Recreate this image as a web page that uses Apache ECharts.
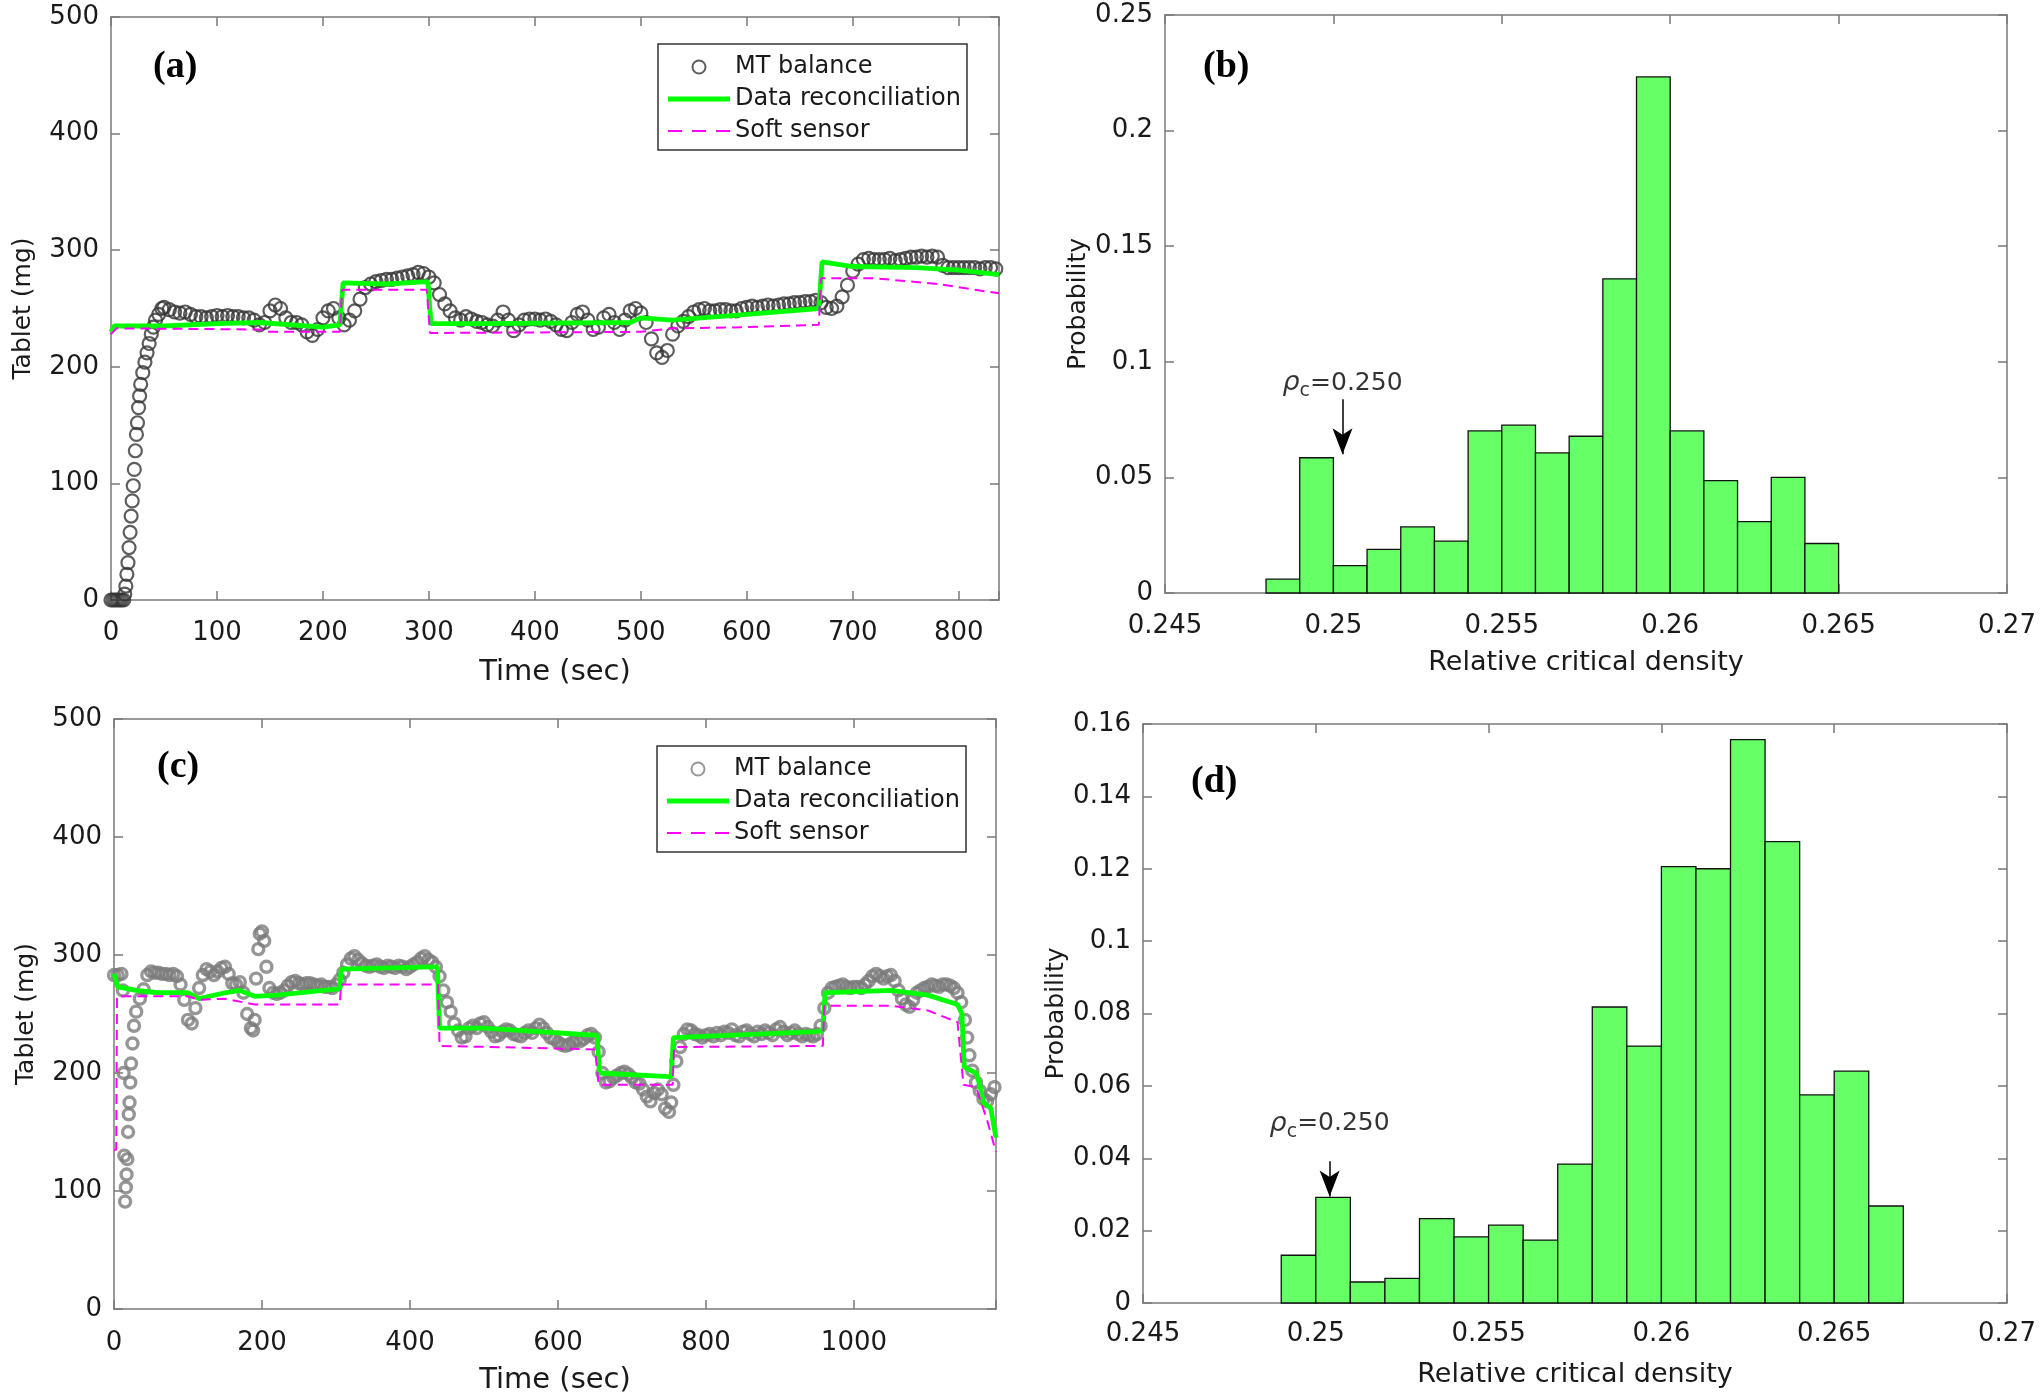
<!DOCTYPE html>
<html><head><meta charset="utf-8">
<script src="https://cdn.jsdelivr.net/npm/echarts@6/dist/echarts.min.js"></script>
<style>html,body{margin:0;padding:0;background:#fff}#c{width:2040px;height:1400px}</style>
</head><body><div id="c"></div>
<script>
// ---------- Panel (a): time series ----------
const mtA = [[0,0],[2,0],[4,0],[6,0],[8,0],[10,0],[12,0],[13,5],[14,12],[15,22],[16,32],[17,45],[18,58],[19,72],[20,85],[21,98],[22,112],[23,128],[24,142],[25,152],[26,165],[27,175],[28,185],[30,195],[32,204],[34,212],[36,220],[38,228],[40,234],[42,240],[45,245],[48,250],[50,251],[55,249],[60,247],[65,246],[70,247],[75,245],[80,243],[85,243],[90,242],[95,243],[100,244],[105,243],[110,244],[115,243],[120,243],[125,242],[130,242],[135,240],[140,236],[145,238],[150,248],[155,253],[160,250],[165,242],[170,238],[175,238],[180,236],[185,230],[190,227],[195,232],[200,242],[205,248],[210,250],[215,242],[220,236],[225,240],[230,248],[235,258],[240,268],[245,271],[250,273],[255,274],[260,275],[265,275],[270,276],[275,277],[280,278],[285,279],[290,281],[295,280],[300,277],[305,272],[310,262],[315,254],[320,248],[325,242],[330,240],[335,243],[340,241],[345,239],[350,238],[355,236],[360,235],[365,240],[370,247],[375,240],[380,231],[385,236],[390,240],[395,241],[400,241],[405,240],[410,241],[415,239],[420,236],[425,232],[430,231],[435,238],[440,245],[445,247],[450,240],[455,232],[460,234],[465,242],[470,245],[475,238],[480,232],[485,240],[490,248],[495,250],[500,246],[505,238],[510,224],[515,212],[520,208],[525,214],[530,228],[535,235],[540,239],[545,243],[550,247],[555,249],[560,250],[565,248],[570,248],[575,249],[580,249],[585,248],[590,248],[595,250],[600,251],[605,252],[610,251],[615,252],[620,253],[625,252],[630,253],[635,254],[640,254],[645,255],[650,255],[655,256],[660,256],[665,257],[670,255],[675,251],[680,250],[685,252],[690,260],[695,270],[700,282],[705,288],[710,292],[715,293],[720,292],[725,292],[730,292],[735,293],[740,291],[745,292],[750,293],[755,294],[760,294],[765,295],[770,294],[775,295],[780,294],[785,287],[790,285],[795,285],[800,285],[805,285],[810,285],[815,285],[820,284],[825,285],[830,285],[835,284]];
const reconA = [[0,230],[3,235],[50,235],[100,237],[140,238],[200,234],[216,236],[219,272],[260,271],[299,273],[302,237],[350,237],[490,238],[500,242],[530,240],[600,245],[668,250],[671,290],[700,286],[760,285],[800,283],[838,279]];
const softA = [[0,228],[5,233],[140,232],[150,230],[216,230],[218,266],[298,266],[301,229],[500,230],[530,233],[600,234],[668,236],[670,276],[720,276],[780,271],[838,263]];

// ---------- Panel (c): time series ----------
const mtC = [[0,283],[5,283],[10,284],[12,270],[13,200],[14,130],[15,91],[16,103],[17,114],[18,127],[19,150],[20,165],[21,175],[22,192],[23,208],[25,225],[27,240],[30,252],[35,263],[40,271],[45,283],[50,286],[55,285],[60,285],[65,284],[70,284],[75,283],[80,284],[85,282],[90,275],[95,262],[100,245],[105,242],[110,255],[115,272],[120,283],[125,288],[130,286],[135,283],[140,286],[145,289],[150,290],[155,284],[160,276],[165,275],[170,277],[175,268],[180,250],[185,238],[188,236],[190,245],[192,280],[195,305],[197,318],[200,320],[203,312],[206,290],[210,272],[215,268],[220,267],[225,268],[230,270],[235,274],[240,277],[245,278],[250,276],[255,275],[260,276],[265,276],[270,275],[275,274],[280,275],[285,273],[290,273],[295,272],[300,275],[305,279],[310,285],[315,292],[320,297],[325,299],[330,296],[335,293],[340,291],[345,290],[350,291],[355,292],[360,290],[365,289],[370,291],[375,290],[380,289],[385,291],[390,290],[395,288],[400,290],[405,292],[410,294],[415,297],[420,299],[425,296],[430,294],[435,290],[440,282],[445,270],[450,260],[455,252],[460,242],[465,236],[470,230],[475,231],[480,238],[485,240],[490,238],[495,242],[500,243],[505,239],[510,235],[515,231],[520,232],[525,235],[530,237],[535,236],[540,233],[545,232],[550,231],[555,234],[560,236],[565,234],[570,238],[575,241],[580,238],[585,234],[590,230],[595,229],[600,226],[605,224],[610,223],[615,224],[620,226],[625,228],[630,227],[635,229],[640,232],[645,233],[650,230],[655,218],[660,200],[665,192],[670,193],[675,196],[680,198],[685,200],[690,201],[695,199],[700,196],[705,192],[710,191],[715,186],[720,180],[725,176],[730,183],[735,186],[740,182],[745,170],[750,167],[753,175],[756,190],[760,210],[765,222],[770,233],[775,237],[780,236],[785,233],[790,232],[795,230],[800,232],[805,233],[810,231],[815,234],[820,232],[825,235],[830,234],[835,237],[840,232],[845,231],[850,235],[855,236],[860,233],[865,231],[870,235],[875,233],[880,236],[885,234],[890,232],[895,237],[900,239],[905,235],[910,232],[915,234],[920,236],[925,233],[930,231],[935,233],[940,232],[945,231],[950,233],[955,240],[960,255],[965,268],[970,272],[975,273],[980,274],[985,275],[990,273],[995,272],[1000,273],[1005,273],[1010,272],[1015,275],[1020,278],[1025,282],[1030,284],[1035,282],[1040,280],[1045,282],[1050,283],[1055,278],[1060,270],[1065,263],[1070,258],[1075,256],[1080,262],[1085,268],[1090,270],[1095,272],[1100,273],[1105,275],[1110,274],[1115,273],[1120,275],[1125,275],[1130,274],[1135,272],[1140,268],[1145,260],[1150,245],[1153,230],[1156,215],[1160,202],[1165,192],[1170,185],[1175,178],[1180,176],[1185,182],[1190,188]];
const reconC = [[0,284],[5,273],[30,270],[60,268],[100,268],[115,263],[150,268],[170,270],[190,265],[220,266],[300,271],[305,271],[307,288],[430,290],[437,290],[440,238],[500,238],[650,232],[653,232],[656,200],[750,197],[753,197],[756,230],[950,235],[958,236],[961,268],[1050,270],[1100,266],[1140,258],[1146,250],[1149,205],[1165,200],[1170,190],[1175,175],[1185,170],[1192,145]];
const softC = [[0,135],[3,135],[4,265],[100,265],[115,262],[150,263],[190,258],[305,258],[307,275],[438,275],[440,223],[650,220],[655,190],[755,190],[757,222],[958,223],[960,257],[1050,257],[1100,253],[1140,243],[1148,190],[1165,188],[1180,160],[1192,133]];

// ---------- Panel (b) & (d): histograms ----------
const histBEdges = [0.248,0.249,0.250,0.251,0.252,0.253,0.254,0.255,0.256,0.257,0.258,0.259,0.260,0.261,0.262,0.263,0.264,0.265];
const histBProb  = [0.006,0.0585,0.0118,0.0189,0.0286,0.0224,0.0701,0.0726,0.0606,0.0678,0.1359,0.2232,0.0701,0.0486,0.0309,0.0500,0.0214];
const histDEdges = [0.249,0.250,0.251,0.252,0.253,0.254,0.255,0.256,0.257,0.258,0.259,0.260,0.261,0.262,0.263,0.264,0.265,0.266,0.267];
const histDProb  = [0.0132,0.0292,0.0058,0.0068,0.0233,0.0183,0.0215,0.0174,0.0384,0.0818,0.0710,0.1206,0.1200,0.1557,0.1275,0.0575,0.0641,0.0268];

// annotation: [x, textY, arrowStartY, arrowEndY]
const annotB = [0.25027, 0.0907, 0.0838, 0.0600];
const annotD = [0.25040, 0.0495, 0.0392, 0.0294];

// axis ranges / ticks
const timeAxisA = [0, 838, 100], yAxisA = [0, 500, 100];
const timeAxisC = [0, 1192, 200], yAxisC = [0, 500, 100];
const densAxis = [0.245, 0.27, 0.005];
const probAxisB = [0, 0.25, 0.05], probAxisD = [0, 0.16, 0.02];

const SANS = 'DejaVu Sans';
const AX = '#7a7a7a', TXT = '#1a1a1a';

function mkX(grid, r, pos, name, nameGap, nameSize, labelMargin, fmt) {
  const isMain = pos === 'bottom';
  return {
    type: 'value', gridIndex: grid, position: pos, min: r[0], max: r[1], interval: r[2],
    axisLine: { show: true, onZero: false, lineStyle: { color: AX, width: 1.5 } },
    axisTick: { show: true, inside: true, length: 9, lineStyle: { color: AX, width: 1.5 } },
    splitLine: { show: false },
    axisLabel: { show: isMain, margin: labelMargin || 20, fontFamily: SANS, fontSize: 26, color: TXT, formatter: fmt },
    name: isMain ? name : '', nameLocation: 'middle', nameGap: nameGap,
    nameTextStyle: { fontFamily: SANS, fontSize: nameSize || 27, color: TXT }
  };
}
function mkY(grid, r, pos, name, nameGap) {
  const isMain = pos === 'left';
  return {
    type: 'value', gridIndex: grid, position: pos, min: r[0], max: r[1], interval: r[2],
    axisLine: { show: true, onZero: false, lineStyle: { color: AX, width: 1.5 } },
    axisTick: { show: true, inside: true, length: 9, lineStyle: { color: AX, width: 1.5 } },
    splitLine: { show: false },
    axisLabel: { show: isMain, margin: 12, fontFamily: SANS, fontSize: 26, color: TXT },
    name: isMain ? name : '', nameLocation: 'middle', nameGap: nameGap,
    nameTextStyle: { fontFamily: SANS, fontSize: 25, color: TXT }
  };
}
const tickFmt = step => v => (Math.abs(v % step) < 1e-9 ? String(v) : '');

const grids = [
  { left: 111, top: 17, width: 888, height: 583 },
  { left: 1165, top: 15, width: 842, height: 578 },
  { left: 114, top: 719, width: 882, height: 590 },
  { left: 1143, top: 724, width: 864, height: 579 }
];

const xAxes = [
  mkX(0, timeAxisA, 'bottom', 'Time (sec)', 58, 29, 20, tickFmt(timeAxisA[2])), mkX(0, timeAxisA, 'top'),
  mkX(1, densAxis, 'bottom', 'Relative critical density', 56, 27, 20), mkX(1, densAxis, 'top'),
  mkX(2, timeAxisC, 'bottom', 'Time (sec)', 57, 29, 21, tickFmt(timeAxisC[2])), mkX(2, timeAxisC, 'top'),
  mkX(3, densAxis, 'bottom', 'Relative critical density', 58, 27, 18), mkX(3, densAxis, 'top')
];
const yAxes = [
  mkY(0, yAxisA, 'left', 'Tablet (mg)', 75), mkY(0, yAxisA, 'right'),
  mkY(1, probAxisB, 'left', 'Probability', 72), mkY(1, probAxisB, 'right'),
  mkY(2, yAxisC, 'left', 'Tablet (mg)', 75), mkY(2, yAxisC, 'right'),
  mkY(3, probAxisD, 'left', 'Probability', 74), mkY(3, probAxisD, 'right')
];

function histSeries(axisIdx, edges, probs) {
  const data = probs.map((p, i) => [edges[i], edges[i + 1], p]);
  return {
    type: 'custom', xAxisIndex: axisIdx, yAxisIndex: axisIdx, silent: true, data,
    encode: { x: [0, 1], y: 2 },
    renderItem: (params, api) => {
      const a = api.coord([api.value(0), api.value(2)]);
      const b = api.coord([api.value(1), 0]);
      return { type: 'rect', shape: { x: a[0], y: a[1], width: b[0] - a[0], height: b[1] - a[1] },
        style: { fill: '#66ff66', stroke: '#111', lineWidth: 1.3 } };
    }
  };
}
function annotSeries(axisIdx, an) {
  return {
    type: 'scatter', xAxisIndex: axisIdx, yAxisIndex: axisIdx, silent: true,
    symbolSize: 1, itemStyle: { color: 'rgba(0,0,0,0)' },
    data: [[an[0], an[1]]],
    label: { show: true, position: 'inside', formatter: '{r|ρ}{s|c}{n|=0.250}',
      rich: {
        r: { fontFamily: SANS, fontStyle: 'italic', fontSize: 27, color: '#000', lineHeight: 32 },
        s: { fontFamily: SANS, fontSize: 19, color: '#000', lineHeight: 32, padding: [16, 0, 0, 0] },
        n: { fontFamily: SANS, fontSize: 25, color: '#000', lineHeight: 32 }
      } },
    markLine: { silent: true, animation: false, symbol: ['none', 'arrow'], symbolSize: [15, 26],
      lineStyle: { color: '#000', width: 1.5, type: 'solid' }, label: { show: false },
      data: [[{ coord: [an[0], an[2]] }, { coord: [an[0], an[3]] }]] }
  };
}

const series = [
  { name: 'MT balance', type: 'scatter', xAxisIndex: 0, yAxisIndex: 0, data: mtA, symbol: 'circle', symbolSize: 13,
    itemStyle: { color: 'rgba(0,0,0,0)', borderColor: '#363636', borderWidth: 2.2 }, z: 2 },
  { name: 'Data reconciliation', type: 'line', xAxisIndex: 0, yAxisIndex: 0, data: reconA, showSymbol: false, symbol: 'none',
    lineStyle: { color: '#00ff00', width: 4.8 }, itemStyle: { color: '#00ff00' }, z: 3 },
  { name: 'Soft sensor', type: 'line', xAxisIndex: 0, yAxisIndex: 0, data: softA, showSymbol: false, symbol: 'none',
    lineStyle: { color: '#ff00ff', width: 2, type: [10, 6] }, itemStyle: { color: '#ff00ff' }, z: 4 },
  histSeries(2, histBEdges, histBProb),
  annotSeries(2, annotB),
  { name: 'MT balance (c)', type: 'scatter', xAxisIndex: 4, yAxisIndex: 4, data: mtC, symbol: 'circle', symbolSize: 11,
    itemStyle: { color: 'rgba(0,0,0,0)', borderColor: '#7c7c7c', borderWidth: 3.4 }, z: 2 },
  { name: 'Data reconciliation (c)', type: 'line', xAxisIndex: 4, yAxisIndex: 4, data: reconC, showSymbol: false, symbol: 'none',
    lineStyle: { color: '#00ff00', width: 4.8 }, itemStyle: { color: '#00ff00' }, z: 3 },
  { name: 'Soft sensor (c)', type: 'line', xAxisIndex: 4, yAxisIndex: 4, data: softC, showSymbol: false, symbol: 'none',
    lineStyle: { color: '#ff00ff', width: 2, type: [10, 6] }, itemStyle: { color: '#ff00ff' }, z: 4 },
  histSeries(6, histDEdges, histDProb),
  annotSeries(6, annotD)
];

// legend icons (62 x 13 box): solid thick bar, dashed thin bar
const ICON_SOLID = 'path://M0,0h0.1v0.1h-0.1z M0,4h62v5h-62z M0,12.9h0.1v0.1h-0.1z';
const ICON_DASH = 'path://M0,0h0.1v0.1h-0.1z M0,5.5h14v2h-14z M24,5.5h14v2h-14z M48,5.5h14v2h-14z M0,12.9h0.1v0.1h-0.1z';

const legendBase = {
  orient: 'vertical', backgroundColor: '#fff', borderColor: '#333', borderWidth: 1.5,
  padding: [11, 6, 7, 10], itemGap: 8, itemWidth: 62, itemHeight: 13, selectedMode: false,
  textStyle: { fontFamily: SANS, fontSize: 24, color: TXT },
  formatter: n => n.replace(' (c)', '')
};
const legendItems = sfx => [
  { name: 'MT balance' + sfx, icon: 'circle' },
  { name: 'Data reconciliation' + sfx, icon: ICON_SOLID },
  { name: 'Soft sensor' + sfx, icon: ICON_DASH }
];
const titleStyle = { fontFamily: 'Liberation Serif', fontWeight: 'bold', fontSize: 38, color: '#000' };

const chart = echarts.init(document.getElementById('c'), null, { renderer: 'canvas' });
chart.setOption({
  backgroundColor: '#fff',
  animation: false,
  title: [
    { text: '(a)', left: 153, top: 48, padding: 0, textStyle: titleStyle },
    { text: '(b)', left: 1203, top: 48, padding: 0, textStyle: titleStyle },
    { text: '(c)', left: 157, top: 748, padding: 0, textStyle: titleStyle },
    { text: '(d)', left: 1191, top: 763, padding: 0, textStyle: titleStyle }
  ],
  legend: [
    Object.assign({}, legendBase, { left: 658, top: 44, data: legendItems('') }),
    Object.assign({}, legendBase, { left: 657, top: 746, data: legendItems(' (c)') })
  ],
  grid: grids,
  xAxis: xAxes,
  yAxis: yAxes,
  series
});
</script></body></html>
